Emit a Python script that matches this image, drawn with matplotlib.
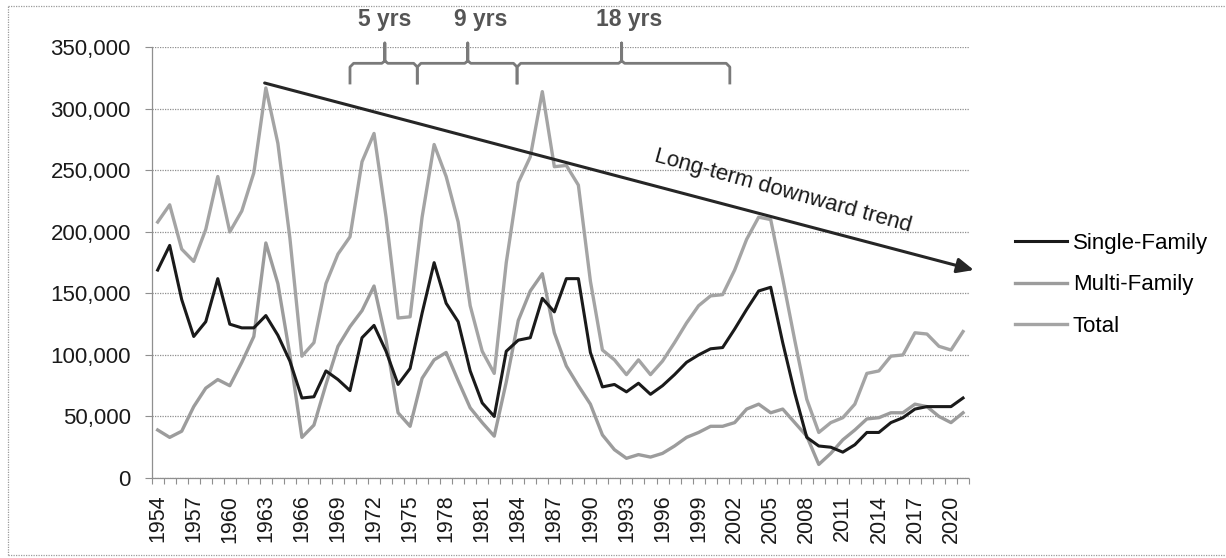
import numpy as np
import matplotlib
matplotlib.use("Agg")
import matplotlib.pyplot as plt
from matplotlib.ticker import FuncFormatter, FixedLocator

plt.rcParams['font.family'] = ['Liberation Sans', 'DejaVu Sans']

# yillar ve seriler (bin konut)
years = list(range(1954, 2022))
single_family = [169, 189, 145, 115, 127, 162, 125, 122, 122, 132,
                 116, 95, 65, 66, 87, 80, 71, 114, 124, 103,
                 76, 89, 134, 175, 142, 127, 87, 61, 50, 103,
                 112, 114, 146, 135, 162, 162, 102, 74, 76, 70,
                 77, 68, 75, 84, 94, 100, 105, 106, 121, 137,
                 152, 155, 110, 69, 33, 26, 25, 21, 27, 37,
                 37, 45, 49, 56, 58, 58, 58, 65]
multi_family = [39, 33, 38, 58, 73, 80, 75, 94, 115, 191,
                158, 100, 33, 43, 76, 107, 123, 136, 156, 112,
                53, 42, 81, 96, 102, 79, 57, 45, 34, 78,
                128, 152, 166, 118, 91, 75, 60, 35, 23, 16,
                19, 17, 20, 26, 33, 37, 42, 42, 45, 56,
                60, 53, 56, 45, 34, 11, 20, 31, 39, 48,
                49, 53, 53, 60, 58, 50, 45, 53]
total = [208, 222, 186, 176, 202, 245, 200, 217, 248, 317,
         272, 195, 99, 110, 158, 182, 196, 257, 280, 212,
         130, 131, 212, 271, 245, 208, 140, 103, 85, 175,
         240, 261, 314, 253, 254, 238, 160, 104, 96, 84,
         96, 84, 95, 110, 126, 140, 148, 149, 169, 194,
         212, 210, 162, 112, 64, 37, 45, 49, 60, 85,
         87, 99, 100, 118, 117, 107, 104, 119]
series_names = ["Single-Family", "Multi-Family", "Total"]

# dongu parantezleri (yil) ve etiketleri
brace_edges = [1970.0, 1975.6, 1983.9, 2001.6]
brace_mids = [1972.9, 1979.8, 1992.6]
brace_labels = ["5 yrs", "9 yrs", "18 yrs"]
brace_label_x = [1972.9, 1980.9, 1993.2]

# trend oku (yil, deger)
trend_start = (1962.9, 321000)
trend_end = (2021.9, 169000)

y_ticks = [0, 50000, 100000, 150000, 200000, 250000, 300000, 350000]


def main():
    fig = plt.figure(figsize=(12.26, 5.58), dpi=100)
    ax = fig.add_axes([0.1237, 0.1434, 0.6667, 0.7718])

    x = np.arange(len(years))
    yr0 = years[0]
    sf = np.array(single_family) * 1000
    mf = np.array(multi_family) * 1000
    tt = np.array(total) * 1000

    grid_col = "#8f8f8f"
    dot = (0, (1, 1))

    ax.plot(x, sf, color="#1a1a1a", lw=2.2, label=series_names[0], zorder=5)
    ax.plot(x, mf, color="#9c9c9c", lw=2.4, label=series_names[1], zorder=4)
    ax.plot(x, tt, color="#a4a4a4", lw=2.4, label=series_names[2], zorder=4)

    ax.set_xlim(-0.5, len(years) - 0.5)
    ax.set_ylim(0, 350000)

    # eksenler
    for s in ["top", "right"]:
        ax.spines[s].set_visible(False)
    for s in ["left", "bottom"]:
        ax.spines[s].set_color(grid_col)
        ax.spines[s].set_linestyle(dot)
        ax.spines[s].set_linewidth(0.9)

    ax.set_yticks(y_ticks)
    ax.yaxis.set_major_formatter(FuncFormatter(lambda v, p: "{:,.0f}".format(v)))
    ax.tick_params(axis="y", length=5, width=0.8, color=grid_col, pad=10,
                   labelsize=16, labelcolor="#1a1a1a")
    ax.grid(axis="y", color=grid_col, linestyle=dot, linewidth=0.9)
    ax.set_axisbelow(True)

    lab_idx = list(range(0, len(years), 3))
    ax.set_xticks(lab_idx)
    ax.set_xticklabels([str(years[i]) for i in lab_idx], rotation=90)
    ax.xaxis.set_minor_locator(FixedLocator(np.arange(-0.5, len(years), 1.0)))
    ax.tick_params(axis="x", which="major", length=0, pad=12, labelsize=15.5,
                   labelcolor="#1a1a1a")
    ax.tick_params(axis="x", which="minor", length=4, width=0.8, color=grid_col)

    # trend oku
    ax.annotate("", xy=(trend_end[0] - yr0, trend_end[1]),
                xytext=(trend_start[0] - yr0, trend_start[1]),
                arrowprops=dict(arrowstyle="-|>,head_length=1.0,head_width=0.45",
                                color="#262626", lw=2.2, shrinkA=0, shrinkB=0),
                annotation_clip=False, zorder=6)
    ax.text(2006.0 - yr0, 233000, "Long-term downward trend", rotation=-15.4,
            rotation_mode="anchor", ha="center", va="center", fontsize=16,
            color="#1a1a1a", zorder=6)

    # parantezler
    br_col = "#7a7a7a"
    y_h, y_low, y_top = 337000, 321000, 353500
    for k in range(len(brace_mids)):
        a = brace_edges[k] - yr0
        b = brace_edges[k + 1] - yr0
        m = brace_mids[k] - yr0
        bx = [a, a, a + 0.3, m - 0.25, m, m, m, m + 0.25, b - 0.3, b, b]
        by = [y_low, y_h - 3000, y_h, y_h, y_h + 2000, y_top, y_h + 2000, y_h, y_h, y_h - 3000, y_low]
        ax.plot(bx, by, color=br_col, lw=2.0, clip_on=False, zorder=6,
                solid_joinstyle="round")
        ax.text(brace_label_x[k] - yr0, 373000, brace_labels[k], ha="center",
                va="center", fontsize=16.5, fontweight="bold", color="#555555")

    ax.legend(loc="upper left", bbox_to_anchor=(1015 / 1226, 1 - 233 / 558),
              bbox_transform=fig.transFigure, frameon=False, fontsize=16,
              handlelength=2.35, handletextpad=0.25, labelspacing=0.92,
              borderpad=0, borderaxespad=0)

    # dis cerceve
    fr = dict(color="#9a9a9a", lw=0.9, linestyle=dot, transform=fig.transFigure)
    fig.add_artist(plt.Line2D([8 / 1226, 8 / 1226], [1 - 555 / 558, 1 - 6 / 558], **fr))
    fig.add_artist(plt.Line2D([8 / 1226, 1], [1 - 6 / 558, 1 - 6 / 558], **fr))
    fig.add_artist(plt.Line2D([8 / 1226, 1], [1 - 555 / 558, 1 - 555 / 558], **fr))

    fig.savefig("out.png", dpi=100)


if __name__ == "__main__":
    main()
